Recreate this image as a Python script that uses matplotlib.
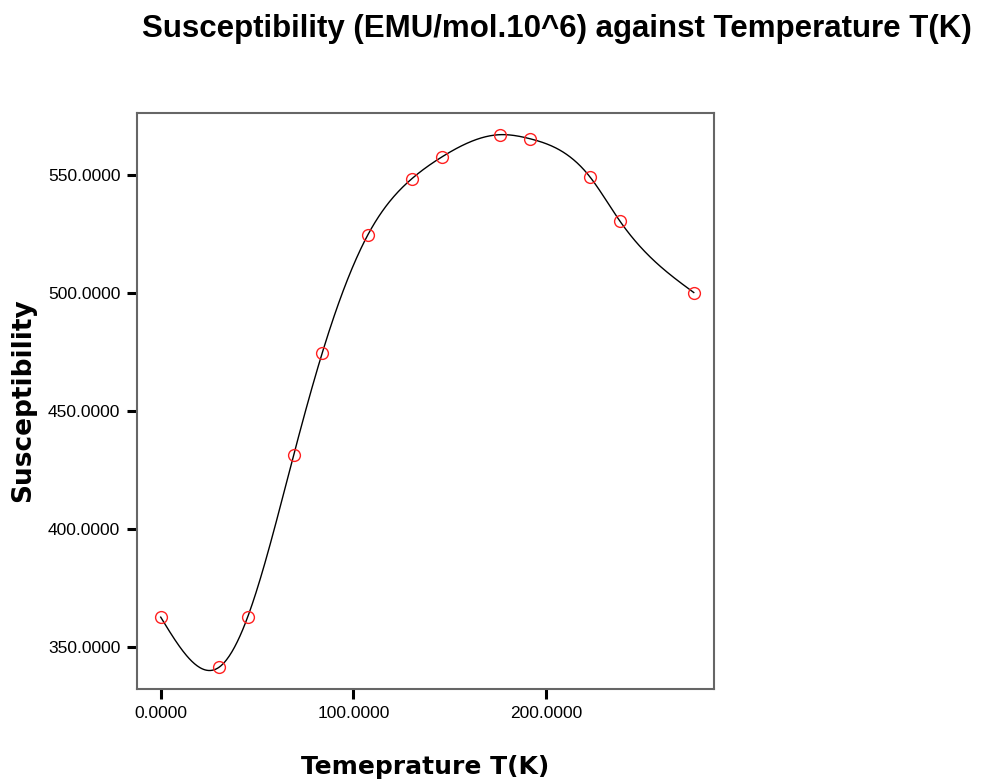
import numpy as np
import matplotlib
matplotlib.use("Agg")
import matplotlib.pyplot as plt

# values
temperature = [0.0, 30.4, 45.1, 69.0, 83.8, 107.5, 130.3, 146.0, 176.0, 191.5, 222.8, 238.2, 276.6]
susceptibility = [362.5, 341.3, 362.5, 431.3, 474.6, 524.8, 548.6, 557.9, 567.3, 565.6, 549.3, 530.7, 500.3]
x_ticks = [0, 100, 200]
y_ticks = [350, 400, 450, 500, 550]


# natural cubic spline through the points (no scipy here)
def natural_spline(x, y, xs):
    x = np.asarray(x, float)
    y = np.asarray(y, float)
    n = len(x)
    h = np.diff(x)
    A = np.zeros((n, n))
    b = np.zeros(n)
    A[0, 0] = 1
    A[-1, -1] = 1
    for i in range(1, n - 1):
        A[i, i - 1] = h[i - 1]
        A[i, i] = 2 * (h[i - 1] + h[i])
        A[i, i + 1] = h[i]
        b[i] = 6 * ((y[i + 1] - y[i]) / h[i] - (y[i] - y[i - 1]) / h[i - 1])
    M = np.linalg.solve(A, b)
    idx = np.clip(np.searchsorted(x, xs) - 1, 0, n - 2)
    x0, x1 = x[idx], x[idx + 1]
    hh = x1 - x0
    t0 = x1 - xs
    t1 = xs - x0
    return (M[idx] * t0 ** 3 / (6 * hh) + M[idx + 1] * t1 ** 3 / (6 * hh)
            + (y[idx] / hh - M[idx] * hh / 6) * t0
            + (y[idx + 1] / hh - M[idx + 1] * hh / 6) * t1)


xs = np.linspace(temperature[0], temperature[-1], 600)
ys = natural_spline(temperature, susceptibility, xs)

plt.rcParams['font.family'] = ['Liberation Sans', 'DejaVu Sans']

fig = plt.figure(figsize=(9.84, 7.83), dpi=100)
ax = fig.add_axes([137 / 984, 1 - 689 / 783, 577 / 984, 576 / 783])

ax.plot(xs, ys, color="black", linewidth=1.0)
ax.plot(temperature, susceptibility, linestyle="none", marker="o", markersize=8.5,
        markerfacecolor="none", markeredgecolor="#ff2020", markeredgewidth=1.0)

ax.set_xlim(-12.3, 287.1)
ax.set_ylim(332.0, 576.5)
ax.set_xticks(x_ticks)
ax.set_yticks(y_ticks)
ax.set_xticklabels(["%.4f" % v for v in x_ticks], fontsize=12.5)
ax.set_yticklabels(["%.4f" % v for v in y_ticks], fontsize=12.5)
ax.tick_params(direction="out", length=7, width=2.2, color="black")
ax.tick_params(axis="x", pad=5)
ax.tick_params(axis="y", pad=5)

for s in ax.spines.values():
    s.set_color("#666666")
    s.set_linewidth(1.5)

fig.text(23 / 984, 1 - 400 / 783, "Susceptibility", fontsize=19, fontweight="bold",
         family="DejaVu Sans", rotation=90, ha="center", va="center")
fig.text(425 / 984, 1 - 767 / 783, "Temeprature T(K)", fontsize=18, fontweight="bold",
         family="DejaVu Sans", ha="center", va="center")
fig.text(557 / 984, 1 - 37 / 783, "Susceptibility (EMU/mol.10^6) against Temperature T(K)",
         fontsize=22.5, fontweight="bold", ha="center", va="baseline")

fig.savefig("out.png", dpi=100)
